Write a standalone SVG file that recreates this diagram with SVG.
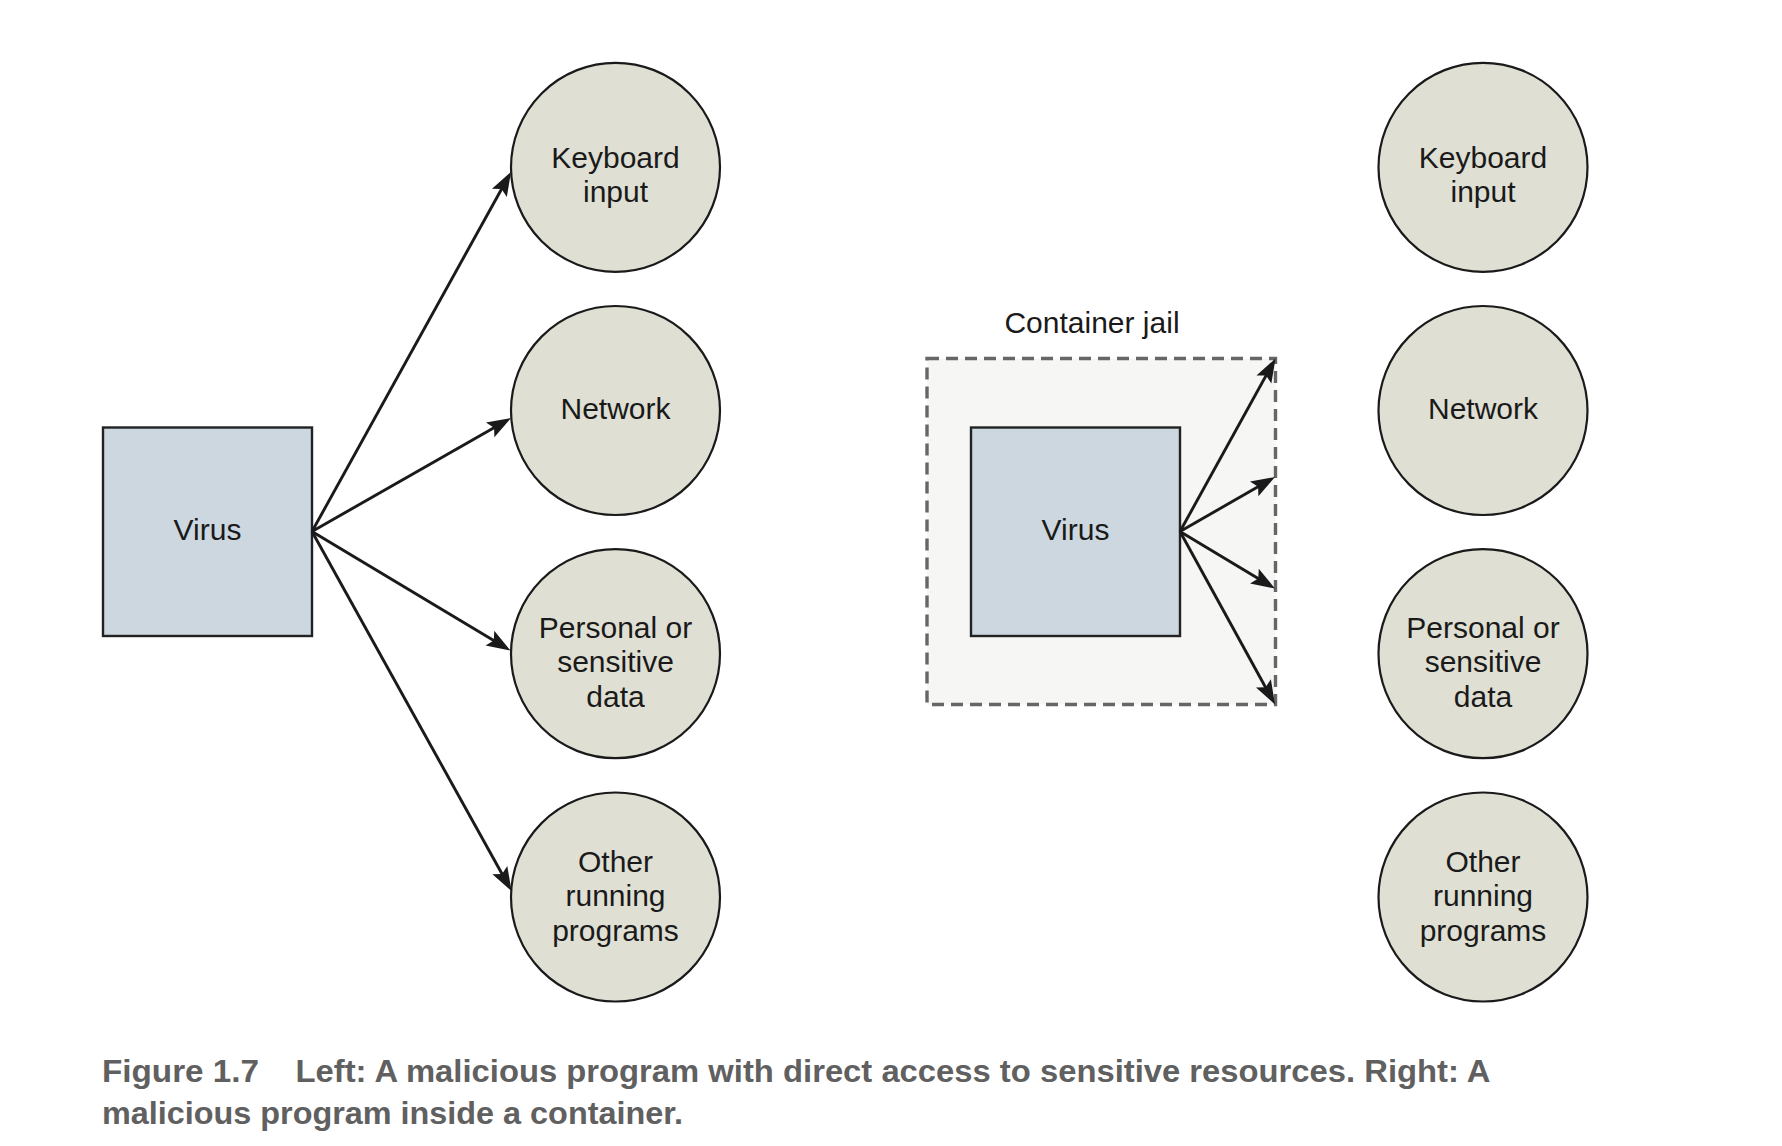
<svg xmlns="http://www.w3.org/2000/svg" width="1782" height="1146" viewBox="0 0 1782 1146">
  <style>
    .lbl { font-family: "Liberation Sans", Arial, Helvetica, sans-serif; font-size: 30px; fill: #1a1a1a; text-anchor: middle; }
    .res { fill: #dfdfd3; stroke: #1a1a1a; stroke-width: 2.2; }
    .virus { fill: #cdd7df; stroke: #222222; stroke-width: 2.4; }
    .jail { fill: #f6f6f4; stroke: #666666; stroke-width: 3.4; stroke-dasharray: 12 7; }
    .arrow { fill: none; stroke: #1a1a1a; stroke-width: 2.9; marker-end: url(#ah); }
    .cap { font-family: "Liberation Sans", Arial, Helvetica, sans-serif; font-size: 32px; font-weight: bold; fill: #606060; }
  </style>
  <defs>
    <marker id="ah" markerUnits="userSpaceOnUse" markerWidth="24" markerHeight="17" refX="18" refY="8.5" orient="auto" overflow="visible">
      <path d="M24,8.5 L0,0 L4.5,8.5 L0,17 Z" fill="#1a1a1a"/>
    </marker>
  </defs>
  <rect x="0" y="0" width="1782" height="1146" fill="#ffffff"/>

  <!-- Left side -->
  <g id="virus-left">
    <rect class="virus" x="103" y="427.5" width="209" height="208.5"/>
    <text class="lbl" x="207.5" y="540">Virus</text>
  </g>
  <g id="keyboard-left">
    <circle class="res" cx="615.5" cy="167.3" r="104.5"/>
    <text class="lbl" x="615.5" y="167.8">Keyboard</text>
    <text class="lbl" x="615.5" y="202.3">input</text>
  </g>
  <g id="network-left">
    <circle class="res" cx="615.5" cy="410.5" r="104.5"/>
    <text class="lbl" x="615.5" y="419">Network</text>
  </g>
  <g id="personal-left">
    <circle class="res" cx="615.5" cy="653.7" r="104.5"/>
    <text class="lbl" x="615.5" y="638">Personal or</text>
    <text class="lbl" x="615.5" y="672.3">sensitive</text>
    <text class="lbl" x="615.5" y="706.6">data</text>
  </g>
  <g id="other-left">
    <circle class="res" cx="615.5" cy="897" r="104.5"/>
    <text class="lbl" x="615.5" y="871.7">Other</text>
    <text class="lbl" x="615.5" y="906.2">running</text>
    <text class="lbl" x="615.5" y="940.7">programs</text>
  </g>

  <!-- Right side -->
  <g id="container-jail">
    <rect class="jail" x="927" y="358.5" width="348.5" height="346"/>
    <text class="lbl" x="1092" y="332.5">Container jail</text>
  </g>
  <g id="virus-right">
    <rect class="virus" x="971" y="427.5" width="209" height="208.5"/>
    <text class="lbl" x="1075.5" y="540">Virus</text>
  </g>
  <g id="keyboard-right">
    <circle class="res" cx="1483" cy="167.3" r="104.5"/>
    <text class="lbl" x="1483" y="167.8">Keyboard</text>
    <text class="lbl" x="1483" y="202.3">input</text>
  </g>
  <g id="network-right">
    <circle class="res" cx="1483" cy="410.5" r="104.5"/>
    <text class="lbl" x="1483" y="419">Network</text>
  </g>
  <g id="personal-right">
    <circle class="res" cx="1483" cy="653.7" r="104.5"/>
    <text class="lbl" x="1483" y="638">Personal or</text>
    <text class="lbl" x="1483" y="672.3">sensitive</text>
    <text class="lbl" x="1483" y="706.6">data</text>
  </g>
  <g id="other-right">
    <circle class="res" cx="1483" cy="897" r="104.5"/>
    <text class="lbl" x="1483" y="871.7">Other</text>
    <text class="lbl" x="1483" y="906.2">running</text>
    <text class="lbl" x="1483" y="940.7">programs</text>
  </g>

  <g id="connectors">
    <line class="arrow" x1="312" y1="531.5" x2="508.1" y2="177.2"/>
    <line class="arrow" x1="312" y1="531.5" x2="505.8" y2="421"/>
    <line class="arrow" x1="312" y1="531.5" x2="505.35" y2="647.4"/>
    <line class="arrow" x1="312" y1="531.5" x2="508.6" y2="885.75"/>
    <line class="arrow" x1="1180" y1="531.5" x2="1272.6" y2="363.75"/>
    <line class="arrow" x1="1180" y1="531.5" x2="1269.8" y2="480"/>
    <line class="arrow" x1="1180" y1="531.5" x2="1269.85" y2="585.4"/>
    <line class="arrow" x1="1180" y1="531.5" x2="1272.1" y2="699.2"/>
  </g>

  <g id="caption">
    <text class="cap" x="102" y="1081.7" textLength="157" lengthAdjust="spacingAndGlyphs">Figure 1.7</text>
    <text class="cap" x="295.5" y="1081.7" textLength="1195" lengthAdjust="spacingAndGlyphs">Left: A malicious program with direct access to sensitive resources. Right: A</text>
    <text class="cap" x="102" y="1123.5" textLength="581" lengthAdjust="spacingAndGlyphs">malicious program inside a container.</text>
  </g>
</svg>
